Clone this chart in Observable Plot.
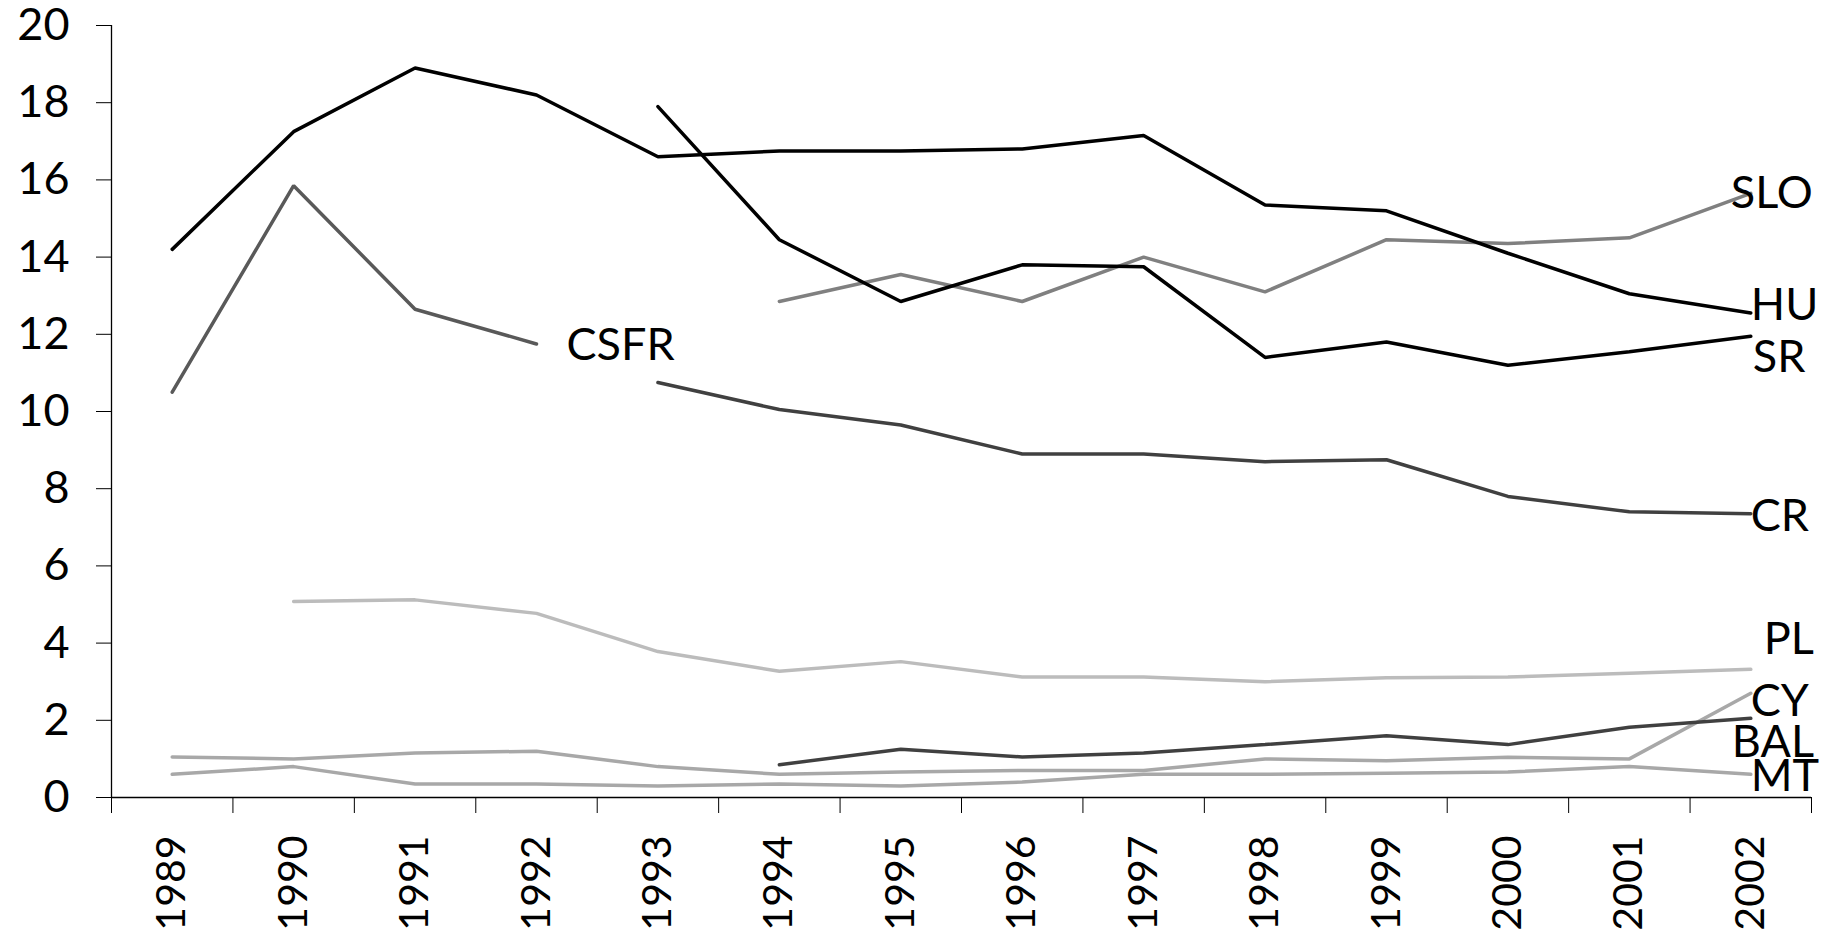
<!DOCTYPE html>
<html>
<head>
<meta charset="utf-8">
<script src="https://cdn.jsdelivr.net/npm/d3@7"></script>
<script src="https://cdn.jsdelivr.net/npm/@observablehq/plot@0.6"></script>
<style>
  html, body { margin: 0; padding: 0; background: #fff; }
  #chart { width: 1838px; height: 936px; }
</style>
</head>
<body>
<div id="chart"></div>
<script>
// ---- data ----
const years = [1989, 1990, 1991, 1992, 1993, 1994, 1995, 1996, 1997, 1998, 1999, 2000, 2001, 2002];
const yTicks = [0, 2, 4, 6, 8, 10, 12, 14, 16, 18, 20];

const HU   = [14.2, 17.25, 18.9, 18.2, 16.6, 16.75, 16.75, 16.8, 17.15, 15.35, 15.2, 14.1, 13.05, 12.55];
const SR   = [null, null, null, null, 17.9, 14.45, 12.85, 13.8, 13.75, 11.4, 11.8, 11.2, 11.55, 11.95];
const SLO  = [null, null, null, null, null, 12.85, 13.55, 12.85, 14.0, 13.1, 14.45, 14.35, 14.5, 15.65];
const CSFR = [10.5, 15.85, 12.65, 11.75, null, null, null, null, null, null, null, null, null, null];
const CR   = [null, null, null, null, 10.75, 10.05, 9.65, 8.9, 8.9, 8.7, 8.75, 7.8, 7.4, 7.35];
const PL   = [null, 5.08, 5.12, 4.77, 3.78, 3.27, 3.52, 3.12, 3.12, 3.0, 3.1, 3.12, 3.22, 3.32];
const BAL  = [null, null, null, null, null, 0.85, 1.25, 1.05, 1.15, 1.37, 1.6, 1.37, 1.82, 2.05];
const CY   = [1.05, 1.0, 1.15, 1.2, 0.8, 0.6, 0.66, 0.7, 0.7, 1.0, 0.95, 1.04, 1.0, 2.7];
const MT   = [0.6, 0.8, 0.35, 0.35, 0.3, 0.35, 0.3, 0.4, 0.6, 0.6, 0.63, 0.66, 0.8, 0.6];

// label names and anchor points (data units)
const labelNames  = ["SLO", "HU", "SR", "CSFR", "CR", "PL", "CY", "BAL", "MT"];
const labelYears  = [2002, 2002, 2002, 1992, 2002, 2002, 2002, 2002, 2002];
const labelValues = [15.65, 12.75, 11.4, 11.7, 7.28, 4.1, 2.49, 1.43, 0.55];

// ---- build ----
const seriesDefs = [
  {name: "HU",   values: HU,   color: "#000000"},
  {name: "SR",   values: SR,   color: "#000000"},
  {name: "SLO",  values: SLO,  color: "#808080"},
  {name: "CSFR", values: CSFR, color: "#595959"},
  {name: "CR",   values: CR,   color: "#404040"},
  {name: "PL",   values: PL,   color: "#bcbcbc"},
  {name: "BAL",  values: BAL,  color: "#404040"},
  {name: "CY",   values: CY,   color: "#a8a8a8"},
  {name: "MT",   values: MT,   color: "#a8a8a8"}
];

const labelRows = labelNames.map((n, i) => ({name: n, year: labelYears[i], value: labelValues[i]}));
const labelDx = {SLO: -20, HU: 0, SR: 2, CSFR: 30, CR: 0, PL: 13, CY: 0, BAL: -19, MT: 0};

const step = years[1] - years[0];
const xDomain = [years[0] - step / 2, years[years.length - 1] + step / 2];
const boundaries = years.map(y => y - step / 2).concat([years[years.length - 1] + step / 2]);

const FONT = "Lato, 'Open Sans', 'DejaVu Sans', sans-serif";

const lineMarks = seriesDefs
  .slice().reverse()
  .map(s => Plot.line(
    years.map((y, i) => ({year: y, value: s.values[i]})),
    {x: "year", y: "value", stroke: s.color, strokeWidth: 3.5, strokeLinejoin: "miter", curve: "linear"}
  ));

const labelMarks = labelRows.map(r => Plot.text([r], {
  x: "year", y: "value", text: "name",
  textAnchor: "start", fontSize: 45, fill: "#000", dx: labelDx[r.name]
}));

const chart = Plot.plot({
  width: 1838,
  height: 936,
  marginLeft: 111,
  marginRight: 27,
  marginTop: 25,
  marginBottom: 139,
  style: {fontFamily: FONT, fontSize: "46px", color: "#000", background: "#fff"},
  x: {domain: xDomain, axis: null},
  y: {domain: [0, 20], axis: null},
  marks: [
    // y axis
    Plot.axisY({ticks: yTicks, tickSize: 15, tickPadding: 27, fontSize: 45, label: null, stroke: "#000"}),
    Plot.ruleX([xDomain[0]], {y1: 0, y2: 20, stroke: "#000", strokeWidth: 1.3}),
    // x axis
    Plot.ruleY([0], {x1: xDomain[0], x2: xDomain[1], stroke: "#000", strokeWidth: 1.5}),
    Plot.axisX({ticks: boundaries, tickSize: 16, tickFormat: () => "", label: null, stroke: "#000"}),
    Plot.axisX({ticks: years, tickSize: 0, tickPadding: 38, tickRotate: -90, tickFormat: d => String(d), fontSize: 41, label: null}),
    ...lineMarks,
    ...labelMarks
  ]
});

document.getElementById("chart").appendChild(chart);
</script>
</body>
</html>
